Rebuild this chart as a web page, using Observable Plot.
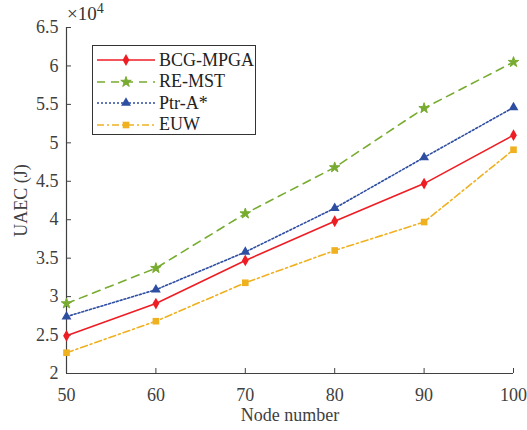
<!DOCTYPE html>
<html><head><meta charset="utf-8">
<script src="https://cdn.jsdelivr.net/npm/d3@7"></script>
<script src="https://cdn.jsdelivr.net/npm/@observablehq/plot@0.6"></script>
<style>
body{margin:0;background:#fff;}
#wrap{position:relative;width:527px;height:430px;font-family:"Liberation Serif","Times New Roman",serif;}
#legend{position:absolute;left:92px;top:45px;width:164px;height:90px;border:1.5px solid #333;background:#fff;box-sizing:border-box;}
.row{position:absolute;left:0;height:22px;display:flex;align-items:center;white-space:nowrap;}
.row span{font-size:18px;color:#222;margin-left:2px;white-space:nowrap;}
#exp{position:absolute;left:67px;top:1px;font-size:19px;color:#333;}
#exp sup{font-size:14px;}
</style></head>
<body><div id="wrap"></div>
<script>
const nodes = [50, 60, 70, 80, 90, 100];
const seriesNames = ["BCG-MPGA", "RE-MST", "Ptr-A*", "EUW"];
const bcgMpga = [24900, 29100, 34700, 39800, 44700, 51000];
const reMst   = [29100, 33700, 40800, 46800, 54500, 60500];
const ptrA    = [27400, 30900, 35800, 41500, 48100, 54600];
const euw     = [22700, 26800, 31800, 36000, 39700, 49100];
const yTicks = [20000, 25000, 30000, 35000, 40000, 45000, 50000, 55000, 60000, 65000];
const xTicks = [50, 60, 70, 80, 90, 100];

const colors = ["#ee1d24", "#77ac30", "#2e4ea2", "#efb120"];
const dashes = [null, "8,6", "2,2", "7,3,2,3"];
const symbols = ["diamond", "star", "triangle", "square"];
const symSizes = [40, 34, 42, 44];

const values = [bcgMpga, reMst, ptrA, euw];
const data = [];
seriesNames.forEach((s, i) => nodes.forEach((n, j) => data.push({series: s, idx: i, x: n, y: values[i][j]})));

const marks = [];
seriesNames.forEach((s, i) => {
  const d = data.filter(r => r.idx === i);
  marks.push(Plot.line(d, {x: "x", y: "y", stroke: colors[i], strokeWidth: 1.6, strokeDasharray: dashes[i]}));
  marks.push(Plot.dot(d, {x: "x", y: "y", symbol: () => symbols[i], fill: colors[i], stroke: i === 1 ? colors[i] : "none", strokeWidth: 1, r: Math.sqrt(symSizes[i] / Math.PI)}));
});

const chart = Plot.plot({
  width: 527, height: 430,
  marginLeft: 66, marginRight: 14, marginTop: 27, marginBottom: 57,
  style: {fontFamily: "Liberation Serif, Times New Roman, serif", fontSize: "18px", color: "#333", background: "#fff"},
  x: {domain: [50, 100]},
  y: {domain: [20000, 65000]},
  symbol: {type: "identity"},
  marks: [
    Plot.ruleX([50], {stroke: "#404040", strokeWidth: 1.2}),
    Plot.ruleY([20000], {stroke: "#404040", strokeWidth: 1.2}),
    Plot.axisX({ticks: xTicks, tickSize: -5, tickFormat: () => "", stroke: "#404040", label: null}),
    Plot.axisY({ticks: yTicks, tickSize: -5, tickFormat: () => "", stroke: "#404040", label: null}),
    Plot.axisX({ticks: xTicks, tickSize: 0, tickPadding: 15, fontSize: 18, fill: "#404040", label: "Node number", labelAnchor: "center", labelOffset: 47, labelArrow: "none"}),
    Plot.axisY({ticks: yTicks, tickSize: 0, tickPadding: 8, fontSize: 18, fill: "#404040", tickFormat: d => String(d / 10000), label: "UAEC (J)", labelAnchor: "center", labelOffset: 52, labelArrow: "none"}),
    ...marks
  ]
});
const wrap = document.getElementById("wrap");
wrap.appendChild(chart);

const exp = document.createElement("div");
exp.id = "exp";
exp.innerHTML = "×10<sup>4</sup>";
wrap.appendChild(exp);

const legend = document.createElement("div");
legend.id = "legend";
wrap.appendChild(legend);
const symMap = {diamond: d3.symbolDiamond, star: d3.symbolStar, triangle: d3.symbolTriangle, square: d3.symbolSquare};
seriesNames.forEach((s, i) => {
  const row = document.createElement("div");
  row.className = "row";
  row.style.top = (3 + i * 21.5) + "px";
  const svg = d3.create("svg").attr("width", 64).attr("height", 22);
  svg.append("line").attr("x1", 4).attr("x2", 62).attr("y1", 11).attr("y2", 11)
    .attr("stroke", colors[i]).attr("stroke-width", 1.6).attr("stroke-dasharray", dashes[i]);
  svg.append("path").attr("transform", "translate(33,11)")
    .attr("d", d3.symbol(symMap[symbols[i]], symSizes[i])()).attr("fill", colors[i])
    .attr("stroke", i === 1 ? colors[i] : "none");
  row.appendChild(svg.node());
  const sp = document.createElement("span");
  sp.textContent = s;
  row.appendChild(sp);
  legend.appendChild(row);
});
</script></body></html>
